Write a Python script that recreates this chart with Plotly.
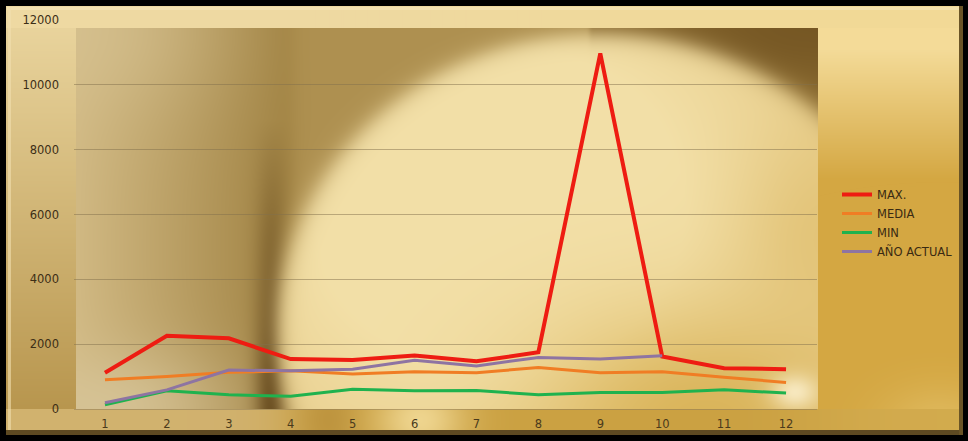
import base64
import struct
import zlib

import numpy as np
import plotly.graph_objects as go

# ---- data ----
months = [1, 2, 3, 4, 5, 6, 7, 8, 9, 10, 11, 12]
max_vals = [1120, 2260, 2180, 1540, 1510, 1650, 1470, 1750, 10970, 1620, 1260, 1230]
media_vals = [900, 1000, 1130, 1180, 1080, 1150, 1120, 1280, 1120, 1150, 980, 820]
min_vals = [130, 560, 440, 390, 610, 560, 570, 440, 510, 510, 590, 490]
anio_actual_vals = [190, 590, 1200, 1180, 1230, 1500, 1330, 1590, 1540, 1640]
y_ticks = [0, 2000, 4000, 6000, 8000, 10000, 12000]

series = [
    ("MAX.", max_vals, "#ee1c12", 4),
    ("MEDIA", media_vals, "#f07d24", 3),
    ("MIN", min_vals, "#1fb24e", 3),
    ("AÑO ACTUAL", anio_actual_vals, "#8e74a2", 3),
]

# ---- figure geometry ----
FW, FH = 968, 441
L, R, T, B = 74, 817, 20, 409
W, H = R - L, B - T


def px(x):
    return (x - L) / W


def py(y):
    return (B - y) / H


# ---- decorative gold background (smooth gradients, rendered to a PNG) ----
X, Y = np.meshgrid(np.arange(FW) + 0.5, np.arange(FH) + 0.5)


def col(h):
    return np.array([int(h[i:i + 2], 16) for i in (1, 3, 5)], float)


def sig(d, w):
    return 1.0 / (1.0 + np.exp(-np.clip(d / w, -50, 50)))


def gauss(cx, cy, sx, sy):
    return np.exp(-(((X - cx) / sx) ** 2 + ((Y - cy) / sy) ** 2))


def blend(img, color, alpha):
    a = np.clip(alpha, 0, 1)[..., None]
    img[:] = img * (1 - a) + col(color) * a


def lerp(c1, c2, t):
    t = np.clip(t, 0, 1)[..., None]
    return c1 * (1 - t) + c2 * t


img = np.zeros((FH, FW, 3))
img[:] = col("#d3a744")

# left strip of frame
tl = np.clip((Y - 20) / 390, 0, 1)
left_col = lerp(col("#ead59e"), col("#b8964e"), tl)
img = np.where((X < 76)[..., None], left_col, img)
# top band
top_col = lerp(col("#eed9a2"), col("#f2d996"), np.clip((X - 300) / 600, 0, 1))
img = np.where((Y < 28)[..., None], top_col, img)
# right strip
tr = np.clip((Y - 50) / 130, 0, 1)
right_col = lerp(col("#f4db98"), col("#d4a742"), tr)
img = np.where(((X >= 818) & (Y >= 28))[..., None], right_col, img)
blend(img, "#e6c46e", gauss(940, 425, 60, 40) * 0.6 * (X >= 818))
# bottom strip
bot = (Y >= 409)
bot_col = np.zeros_like(img)
bot_col[:] = col("#cba142")
blend(bot_col, "#d2b474", sig(290 - X, 20) * 0.9)
blend(bot_col, "#b88e3a", gauss(330, 420, 30, 40) * 0.7)
blend(bot_col, "#f2da96", gauss(420, 420, 45, 40) * 0.9)
blend(bot_col, "#d8b256", sig(X - 820, 30) * 0.6)
img = np.where(bot[..., None], bot_col, img)

# plot-area picture
P = lerp(col("#d0b882"), col("#a08242"), (X - 80) / 210)
blend(P, "#d8c69a", gauss(110, 409, 120, 60) * 0.8)
blend(P, "#d8c494", gauss(90, 30, 130, 90) * 0.6)
blend(P, "#b09252", sig(X - 292, 6) * sig(590 - X, 1.5) * 0.9)
blend(P, "#86662c", sig(X - 590, 1.2) * 0.95)
blend(P, "#6a4c1e", gauss(818, 28, 160, 70) * 0.6)
blend(P, "#5a3e14", np.exp(-((X - 272) / 16) ** 2) * np.clip((Y - 120) / 250, 0, 1) * 0.85)
r = np.sqrt(((X - 600) / 322) ** 2 + ((Y - 332) / 298) ** 2)
em = sig((1 - r) * 300, 6)
E = lerp(col("#e6ca86"), col("#f3e0a8"), gauss(500, 210, 270, 240) * 1.6)
P = P * (1 - em[..., None]) + E * em[..., None]
blend(P, "#d6ad4c", gauss(700, 420, 170, 110) * 0.8)
blend(P, "#dcb862", gauss(818, 230, 80, 100) * 0.5)
blend(P, "#fbefcc", gauss(795, 392, 24, 18) * 0.85)
plot_mask = (X >= 76) & (X < 818) & (Y >= 28) & (Y < 409)
img = np.where(plot_mask[..., None], P, img)

# bevel lines and black surround
blend(img, "#f6e6b8", ((Y >= 7) & (Y < 10) & (X >= 7) & (X < 962)).astype(float) * 0.7)
blend(img, "#f2e0b0", ((X >= 8) & (X < 11) & (Y >= 7) & (Y < 433)).astype(float) * 0.6)
blend(img, "#5e4a22", ((Y >= 430) & (Y < 435)).astype(float))
blend(img, "#6a5426", ((X >= 959) & (X < 963)).astype(float))
outside = (X < 6) | (X >= 963) | (Y < 6) | (Y >= 435)
img[outside] = 0

arr = np.clip(img, 0, 255).astype(np.uint8)


def to_png(a):
    h, w, _ = a.shape
    raw = b"".join(b"\x00" + a[i].tobytes() for i in range(h))

    def chunk(tag, data):
        c = struct.pack(">I", len(data)) + tag + data
        return c + struct.pack(">I", zlib.crc32(tag + data) & 0xFFFFFFFF)

    return (b"\x89PNG\r\n\x1a\n"
            + chunk(b"IHDR", struct.pack(">IIBBBBB", w, h, 8, 2, 0, 0, 0))
            + chunk(b"IDAT", zlib.compress(raw, 9))
            + chunk(b"IEND", b""))


bg_uri = "data:image/png;base64," + base64.b64encode(to_png(arr)).decode("ascii")

# ---- chart ----
fig = go.Figure()
for name, vals, color, width in series:
    fig.add_trace(go.Scatter(
        x=months[:len(vals)], y=vals, name=name, mode="lines",
        line=dict(color=color, width=width),
    ))

fig.update_layout(
    width=FW, height=FH,
    margin=dict(l=L, r=FW - R, t=T, b=FH - B, autoexpand=False),
    paper_bgcolor="#000000",
    plot_bgcolor="rgba(0,0,0,0)",
    font=dict(family="'DejaVu Sans', sans-serif", size=11, color="#3c2e16"),
    images=[dict(source=bg_uri, xref="paper", yref="paper",
                 x=px(0), y=py(0), sizex=FW / W, sizey=FH / H,
                 xanchor="left", yanchor="top", sizing="stretch", layer="below")],
    showlegend=True,
    legend=dict(x=px(837), y=py(223), xanchor="left", yanchor="middle",
                bgcolor="rgba(0,0,0,0)", font=dict(size=11.5, color="#3a2a12"),
                tracegroupgap=0, itemwidth=30),
    xaxis=dict(range=[0.5, 12.5], tickmode="array", tickvals=months,
               ticktext=[str(m) for m in months], showgrid=False, zeroline=False,
               showline=True, linecolor="rgba(150,130,90,0.6)", linewidth=1,
               ticks="", ticklabelstandoff=4, automargin=False,
               tickfont=dict(size=11.5, color="#4a3a1c")),
    yaxis=dict(range=[0, 12000], tickmode="array", tickvals=y_ticks,
               ticktext=[str(v) for v in y_ticks], showgrid=True,
               gridcolor="rgba(130,112,75,0.5)", gridwidth=1, zeroline=False,
               showline=False, ticks="", ticklabelstandoff=14, automargin=False,
               tickfont=dict(size=11.5, color="#3c2e16")),
)

fig.write_html(
    "out.html",
    config={"displayModeBar": False},
    post_script="document.body.style.margin='0';document.body.style.background='#000';",
)
